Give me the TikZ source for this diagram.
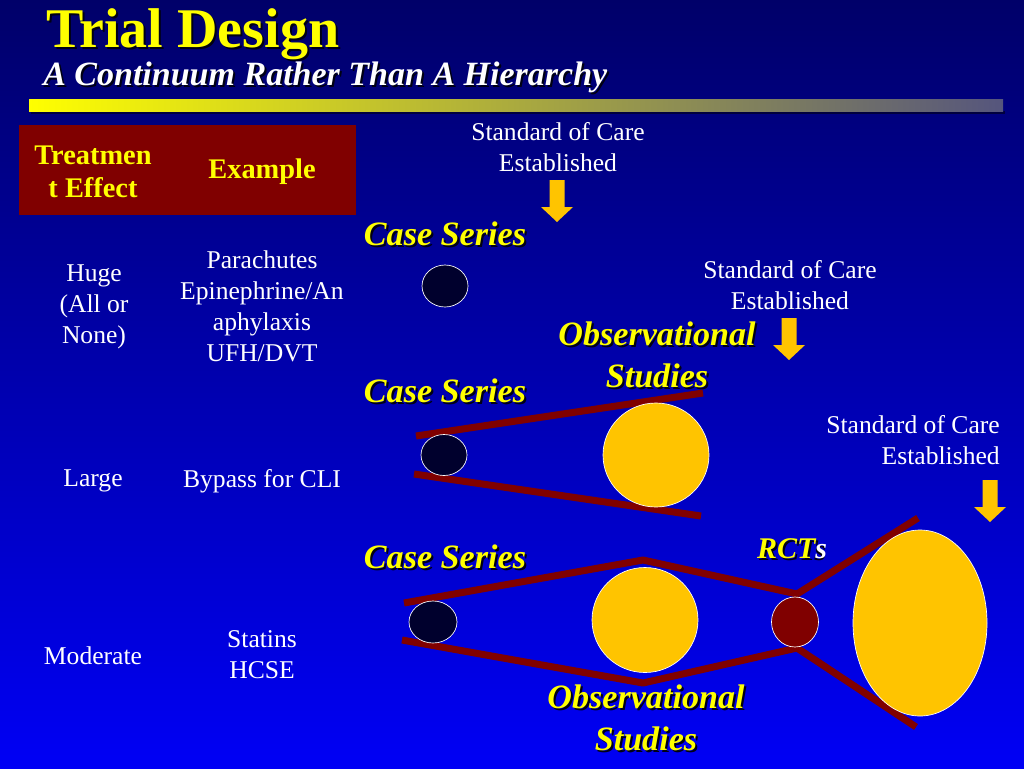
\documentclass[tikz,border=0pt]{standalone}
\usepackage{fontspec}
\setmainfont{Liberation Serif}
\usetikzlibrary{shapes.geometric}
\definecolor{bgtop}{RGB}{0,0,105}
\definecolor{bgbot}{RGB}{0,0,245}
\definecolor{maroonc}{RGB}{128,0,0}
\definecolor{goldc}{RGB}{255,196,0}
\definecolor{navyc}{RGB}{0,0,45}
\definecolor{ttlc}{RGB}{255,255,0}
\definecolor{barmid}{RGB}{185,185,75}
\definecolor{barend}{RGB}{85,85,125}
\definecolor{shdc}{RGB}{0,0,20}
\newcommand\shd[1]{\rlap{\kern1.5pt\raisebox{-1.5pt}{\color{shdc}#1}}#1}
\tikzset{
  ttlstyle/.style={anchor=base west, inner sep=0pt, text=ttlc, font=\bfseries\fontsize{42}{46}\selectfont},
  substyle/.style={anchor=base west, inner sep=0pt, text=white, font=\bfseries\itshape\fontsize{25.5}{30}\selectfont},
  hdrtext/.style={inner sep=0pt, align=center, text=ttlc, font=\bfseries\fontsize{21.3}{24.75}\selectfont},
  bodytext/.style={inner sep=0pt, align=center, text=white, font=\fontsize{19.2}{23.25}\selectfont},
  studylabel/.style={inner sep=0pt, align=center, text=ttlc, font=\bfseries\itshape\fontsize{25.6}{31.5}\selectfont},
  funnel/.style={draw=maroonc, line width=5.25pt, line join=round},
  darkdot/.style={ellipse, fill=navyc, draw=white, line width=0.5pt, inner sep=0pt},
  golddot/.style={ellipse, fill=goldc, draw=white, line width=0.5pt, inner sep=0pt},
  reddot/.style={ellipse, fill=maroonc, draw=white, line width=0.5pt, inner sep=0pt},
  downarrow/.pic={\fill[goldc] (-7.5,0) -- (7.5,0) -- (7.5,27) -- (16,27) -- (0,42) -- (-16,27) -- (-7.5,27) -- cycle;}
}
\begin{document}
\begin{tikzpicture}[x=0.75pt,y=-0.75pt]
\useasboundingbox (0,0) rectangle (1024,768);
\shade[top color=bgtop, bottom color=bgbot] (0,0) rectangle (1024,768);

% title
\node[ttlstyle] (title) at (46,47) {\shd{Trial Design}};
\node[substyle] (subtitle) at (43,85) {\shd{A Continuum Rather Than A Hierarchy}};
\fill[shdc, opacity=0.6] (31,111) rectangle (1005,114);
\shade[left color=ttlc, middle color=barmid, right color=barend] (29,99) rectangle (1003,111);

% table
\node[fill=maroonc, minimum width=252.75pt, minimum height=67.5pt, inner sep=0pt] (hdr) at (187.5,170) {};
\node[hdrtext] (hTE) at (93,172) {Treatmen\\t Effect};
\node[hdrtext] (hEx) at (262,172) {Example};
\node[bodytext] (huge) at (94,307) {Huge\\ (All or\\None)};
\node[bodytext] (para) at (262,306) {Parachutes\\Epinephrine/An\\aphylaxis\\UFH/DVT};
\node[bodytext] (large) at (93,481) {Large};
\node[bodytext] (bypass) at (262,481) {Bypass for CLI};
\node[bodytext] (moderate) at (93,656) {Moderate};
\node[bodytext] (statins) at (262,655) {Statins\\HCSE};

% row 1
\node[bodytext] (soc1) at (558,147) {Standard of Care\\Established};
\pic at (557,180) {downarrow};
\node[studylabel] (cs1) at (445,235) {\shd{Case Series}};
\node[darkdot, minimum width=34.5pt, minimum height=31.5pt] (d1) at (445,286) {};

% row 2
\node[bodytext] (soc2) at (790,285) {Standard of Care\\Established};
\pic at (789,318) {downarrow};
\node[studylabel] (obs1) at (657,356) {\shd{Observational}\\\shd{Studies}};
\node[studylabel] (cs2) at (445,392) {\shd{Case Series}};
\draw[funnel] (416,436) -- (703,393);
\draw[funnel] (414,474) -- (701,516);
\node[darkdot, minimum width=34.5pt, minimum height=30.75pt] (d2) at (444,455) {};
\node[golddot, minimum width=79.5pt, minimum height=78pt] (y2) at (656,455) {};

% row 3
\node[bodytext, align=right, anchor=east] (soc3) at (1000,440) {Standard of Care\\Established};
\pic at (990,480) {downarrow};
\node[studylabel] (cs3) at (445,558) {\shd{Case Series}};
\node[studylabel, font=\bfseries\itshape\fontsize{22.5}{27}\selectfont] (rct) at (792,550) {\rlap{\kern1.5pt\raisebox{-1.5pt}{\color{shdc}RCTs}}RCT{\color{white}s}};
\draw[funnel] (404,603) -- (643,560) -- (797,594) -- (918,518);
\draw[funnel] (402,640) -- (643,683) -- (797,648) -- (916,727);
\node[darkdot, minimum width=36pt, minimum height=31.5pt] (d3) at (433,622) {};
\node[golddot, minimum width=79.5pt, minimum height=78.75pt] (y3) at (645,620) {};
\node[reddot, minimum width=35.25pt, minimum height=37.5pt] (r3) at (795,622) {};
\node[golddot, minimum width=100.5pt, minimum height=139.5pt] (big) at (920,623) {};
\node[studylabel] (obs2) at (646,719) {\shd{Observational}\\\shd{Studies}};
\end{tikzpicture}
\end{document}
